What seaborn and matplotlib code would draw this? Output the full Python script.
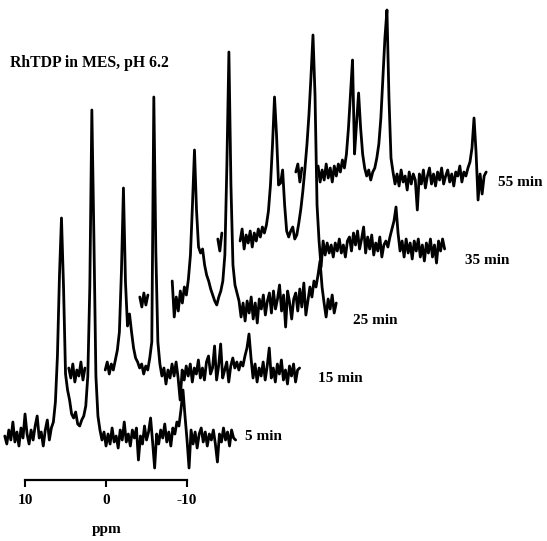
import numpy as np
import pandas as pd
import matplotlib
matplotlib.use("Agg")
import matplotlib.pyplot as plt
import seaborn as sns

# traced spectra: intensity above each trace's own baseline, one value every 0.25 ppm
# (nan = part of the trace hidden behind a peak of the spectrum in front)
nan = np.nan
labels = ["5 min", "15 min", "25 min", "35 min", "55 min"]
start_ppm = [12.5, 12.25, 12.25, 12.5, 12.5]
step_ppm = 0.25

spec_5 = [
    0, -8, 6, -4, 14, -6, 4, -10, 8, -2, 22, 2, -8, 6, -4, 10, 20, -2, 4, -10,
    6, 16, -4, 8, 14, 34, 80, 160, 218, 150, 62, 46, 36, 22, 18, 24, 12, 10, 16, 20,
    30, 60, 150, 326, 200, 60, 20, 6, -4, 4, -10, 2, -8, 8, -6, 0, -12, 6, -4, 14,
    -6, 2, -10, 6, -2, 8, -24, 0, -8, 10, -4, 4, 18, -6, -32, 2, -8, 6, -2, 12,
    -6, 4, -10, 8, 2, 14, 10, 26, 46, 20, -4, -32, 6, -8, 4, -12, 2, 8, -6, 4,
    -10, 2, -4, 6, -8, -26, 2, -6, 8, -4, 4, -10, 6, -2, -4,
]
spec_15 = [
    4, -6, 8, -10, 2, -4, 10, -8, 4, nan, nan, nan, nan, nan, nan, nan, nan, nan, 2, 10,
    -2, 8, 2, 12, 22, 40, 100, 184, 90, 46, 58, 40, 24, 14, 10, 4, 8, -2, 6, 2,
    14, 30, 275, 120, 30, 8, -4, 4, -12, 2, -6, 8, -4, 10, -6, -28, 2, -8, 6, -4,
    8, -10, 4, -2, 12, -6, 4, -8, 10, 16, -2, 4, 26, -8, 6, 28, -6, 2, 10, -10,
    6, 14, 4, 10, 2, 10, 6, 16, 24, 38, 14, -6, 8, -10, 4, -4, 10, -8, 6, 24,
    -6, 4, -10, 8, -2, 12, -8, 2, -12, 6, -4, 8, -10, 2, 4,
]
spec_25 = [
    8, -2, 12, 0, 10, nan, nan, nan, nan, nan, nan, nan, nan, nan, nan, nan, 24, -12, 8, -6,
    14, 2, 18, 10, 26, 50, 100, 155, 95, 58, 52, 56, 40, 30, 24, 16, 10, 4, 0, 8,
    14, 24, 50, 140, 253, 120, 40, 20, 12, 4, -12, 2, -16, 4, -8, 8, -14, 2, -18, 6,
    -4, 10, -10, 4, 12, -8, 14, -4, 6, 20, -6, 10, -22, 14, 2, -14, 6, 12, -6, 16,
    -2, 22, -10, 4, 18, 8, 24, 18, 30, 44, 18, 2, -12, 6, -4, 10, -8, 2,
]
spec_35 = [
    6, -6, 12, nan, nan, nan, nan, nan, nan, nan, nan, 4, 16, -4, 10, 2, 14, -2, 12, 4,
    16, 8, 18, 12, 20, 34, 60, 100, 148, 110, 60, 62, 75, 40, 14, 8, 14, 18, 6, 10,
    22, 36, 54, 76, 100, 130, 168, 210, 150, 40, 4, -22, 4, -10, 2, -8, 0, -12, 2, -6,
    6, -8, 0, -12, 4, 8, -6, 12, 0, 14, -4, 6, 18, -8, 8, -4, 10, -10, 2, -6,
    8, -12, 0, 4, -2, 8, 16, 24, 38, 12, -6, 4, -12, 6, -8, 2, -14, 4, -6, 6,
    -12, 0, -16, 2, -8, 6, -12, 0, -18, 4, -6, 6, -4,
]
spec_55 = [
    6, 14, -4, 10, nan, nan, nan, nan, nan, nan, nan, 12, -4, 8, -2, 14, 0, 10, -4, 12,
    2, 14, 6, 18, 10, 24, 50, 84, 118, 24, 55, 85, 50, 24, 10, 2, 8, -2, 6, 10,
    20, 34, 60, 100, 140, 168, 80, 20, 6, -6, 4, -8, 8, -4, 2, -12, 6, -6, 4, -2,
    -32, 4, -6, 8, -10, 2, 10, -6, 4, -8, 6, -2, 10, -6, 2, 8, -4, 4, -8, 6,
    2, 12, -4, 6, 2, 10, 16, 30, 60, 26, -22, 4, -16, 2, 6,
]
spectra = [spec_5, spec_15, spec_25, spec_35, spec_55]

# stacking of the waterfall (ppm to the right, intensity units up)
x_shift = [0.0, 7.65, 16.42, 26.30, 35.93]
y_lift = [0, 64, 131, 191, 258]

rows = []
for lab, ppm0, vals, dx, dy in zip(labels, start_ppm, spectra, x_shift, y_lift):
    seg = 0
    for i, v in enumerate(vals):
        if np.isnan(v):
            seg += 1
            continue
        rows.append({"x": ppm0 - step_ppm * i - dx, "y": v + dy,
                     "seg": f"{lab}-{seg}"})
df = pd.DataFrame(rows)

sns.set_style("white")
plt.rcParams["font.family"] = ["Liberation Serif", "DejaVu Serif"]
plt.rcParams["text.color"] = "black"
plt.rcParams["xtick.color"] = "black"

fig = plt.figure(figsize=(5.47, 5.41), dpi=100)
ax = fig.add_axes([0, 0, 1, 1])
sns.lineplot(data=df, x="x", y="y", units="seg", estimator=None, sort=False,
             color="black", lw=2.0, legend=False, ax=ax)

ax.set_xlim(13.09, -54.44)
ax.set_ylim(-105, 436)

# time labels at the right end of each trace
label_pos = [(-17.2, -1), (-26.2, 57), (-30.5, 115), (-44.3, 175), (-48.4, 254)]
for lab, (lx, ly) in zip(labels, label_pos):
    ax.text(lx, ly, lab, fontsize=11, fontweight="bold", color="black",
            va="center", ha="left")

ax.text(11.85, 373, "RhTDP in MES, pH 6.2", fontsize=11.3, fontweight="bold",
        color="black", va="center", ha="left")
ax.text(-0.1, -94, "ppm", fontsize=11, fontweight="bold", color="black",
        va="center", ha="center")

for s in ["top", "right", "left"]:
    ax.spines[s].set_visible(False)
ax.spines["bottom"].set_position(("data", -44))
ax.spines["bottom"].set_bounds(-10, 10)
ax.spines["bottom"].set_linewidth(1.6)
ax.spines["bottom"].set_color("black")
ax.set_xticks([10, 0, -10])
ax.set_xticklabels(["10", "0", "-10"], fontsize=11, fontweight="bold", color="black")
ax.tick_params(axis="x", direction="out", length=5, width=1.5, pad=5,
               colors="black", bottom=True)
ax.set_yticks([])
ax.set_xlabel("")
ax.set_ylabel("")

fig.savefig("out.png", dpi=100)
